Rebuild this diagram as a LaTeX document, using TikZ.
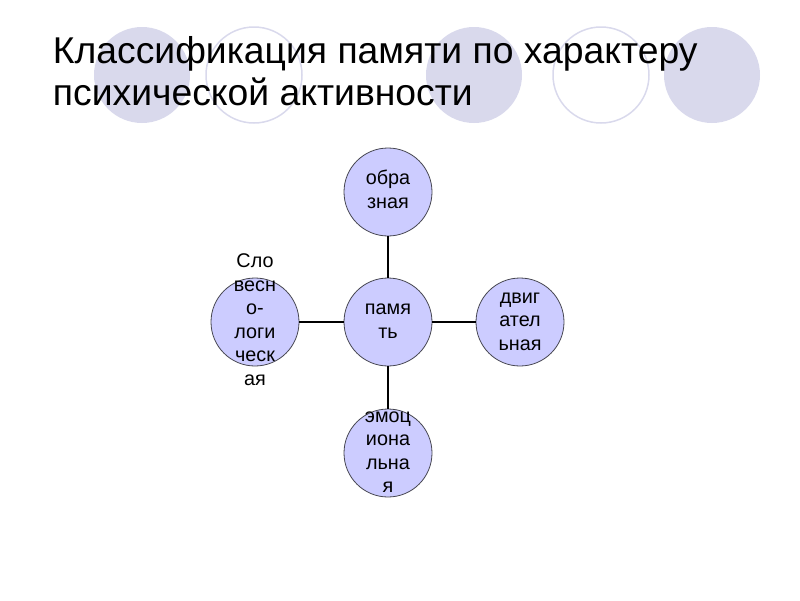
\documentclass[tikz,border=0pt]{standalone}
\usepackage{fontspec}
\setmainfont{Liberation Sans}
\definecolor{lav1}{RGB}{204, 204, 255}
\definecolor{lav2}{RGB}{217, 217, 236}
\definecolor{gray1}{RGB}{70, 70, 80}
% text that does not change the size of its circle
\newcommand{\memtext}[1]{\raisebox{-5pt}[0pt][0pt]{\begin{tabular}{@{}c@{}}#1\end{tabular}}}
\begin{document}
\begin{tikzpicture}[x=1pt, y=-1pt, line width =1.8pt,
  deco/.style={circle, minimum size=96pt, inner sep=0pt},
  mem/.style={circle, fill=lav1, draw=gray1, line width=0.8pt, minimum size=88pt,
    inner sep=0pt, font=\fontsize{19.8}{23.5}\selectfont}]
  \useasboundingbox (0,0) rectangle (800,600);
  % decoration
  \node[deco, fill=lav2] (d1) at (142,75) {};
  \node[deco, draw=lav2, line width=1.5pt] (d2) at (254,75) {};
  \node[deco, fill=lav2] (d3) at (474,75) {};
  \node[deco, draw=lav2, line width=1.5pt] (d4) at (601,75) {};
  \node[deco, fill=lav2] (d5) at (712,75) {};

  \node[anchor=base west, align=left, inner sep=0pt,
    font=\fontsize{37.3}{42}\selectfont] (title) at (52,105)
    {Классификация памяти по характеру\\психической активности};

  \node[mem] (n0) at (388,322) {\memtext{памя\\ть}};
  \node[mem] (n1) at (388,192) {\memtext{обра\\зная}};
  \node[mem] (n2) at (520,322) {\memtext{двиг\\ател\\ьная}};
  \node[mem] (n3) at (388,453) {\memtext{эмоц\\иона\\льна\\я}};
  \node[mem] (n4) at (255,322) {\memtext{Сло\\весн\\о-\\логи\\ческ\\ая}};

  \foreach \from/\to in {n0/n1, n0/n2, n0/n3, n0/n4}
   \draw (\from) -- (\to);
\end{tikzpicture}
\end{document}
